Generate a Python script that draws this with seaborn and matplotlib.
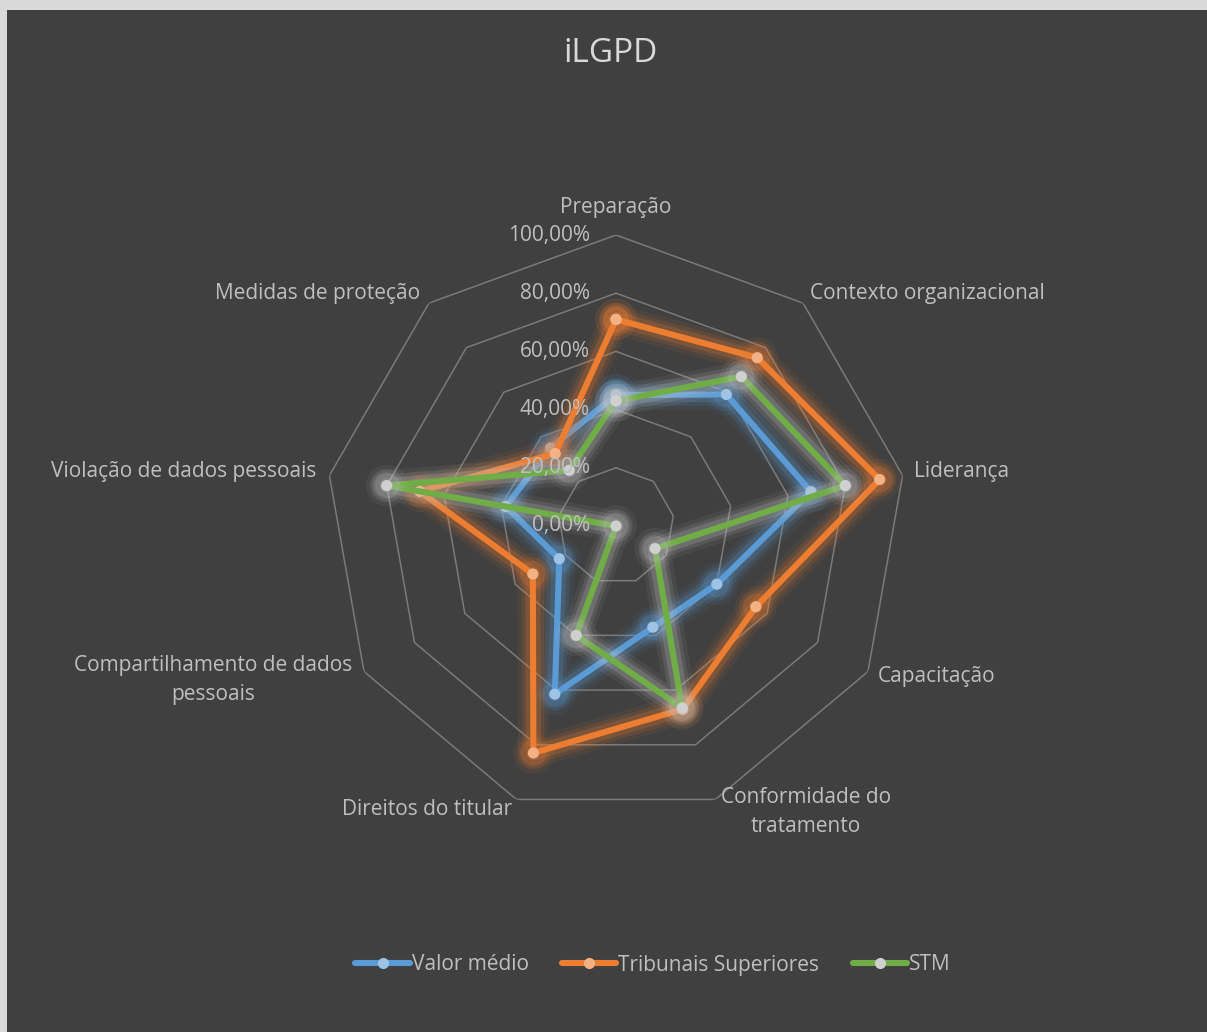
import numpy as np
import pandas as pd
import seaborn as sns
import matplotlib.pyplot as plt
import matplotlib.patheffects as pe
from matplotlib.lines import Line2D
from matplotlib.patches import Rectangle

categories = ['Preparação', 'Contexto organizacional', 'Liderança', 'Capacitação',
              'Conformidade do\ntratamento', 'Direitos do titular',
              'Compartilhamento de dados\npessoais', 'Violação de dados pessoais',
              'Medidas de proteção']
valor_medio = [45, 59, 68, 40, 37, 61.5, 22.5, 38.5, 35]
tribunais = [71, 75.5, 92, 55.5, 67, 83, 33, 68.5, 32.5]
stm = [43, 67, 80, 15.5, 66.5, 40, 0, 80, 25]
series_names = ['Valor médio', 'Tribunais Superiores', 'STM']
tick_vals = [0, 20, 40, 60, 80, 100]
tick_labels = ['0,00%', '20,00%', '40,00%', '60,00%', '80,00%', '100,00%']

line_colors = ['#5b9bd5', '#ed7d31', '#70ad47']
marker_colors = ['#9dc3e6', '#f4b183', '#d0d0d0']
glow_colors = ['#5b9bd5', '#ed7d31', '#c8c8c8']

sns.set_style('white')
plt.rcParams['font.family'] = ['Open Sans', 'DejaVu Sans']
bg = '#404040'
txt = '#bfbfbf'
fs = 15

n = len(categories)
theta = np.linspace(0, 2 * np.pi, n, endpoint=False)
theta_closed = np.append(theta, 2 * np.pi)

rows = []
for name, vals in zip(series_names, [valor_medio, tribunais, stm]):
    closed = list(vals) + [vals[0]]
    for i, (t, v) in enumerate(zip(theta_closed, closed)):
        rows.append({'series': name, 'order': i, 'theta': t, 'value': v})
df = pd.DataFrame(rows)

fig = plt.figure(figsize=(12.07, 10.32), dpi=100)
fig.patch.set_facecolor('#d9d9d9')
fig.add_artist(Rectangle((7 / 1207, 0), 1, (1032 - 10) / 1032,
                         transform=fig.transFigure, facecolor=bg,
                         edgecolor='none', zorder=-10))

cx, cy, R = 616, 526, 291
ax = fig.add_axes([(cx - R) / 1207, (1032 - cy - R) / 1032, 2 * R / 1207, 2 * R / 1032],
                  projection='polar')
ax.set_facecolor('none')
ax.set_theta_zero_location('N')
ax.set_theta_direction(-1)
ax.set_ylim(0, 100)
ax.set_xticks([])
ax.set_yticks([])
ax.grid(False)
ax.spines['polar'].set_visible(False)

# polygon gridlines
for tv in tick_vals[1:]:
    ax.plot(theta_closed, [tv] * (n + 1), color='#7a7a7a', lw=1.1, zorder=1)

for k, name in enumerate(series_names):
    sub = df[df['series'] == name]
    sns.lineplot(data=sub, x='theta', y='value', sort=False, estimator=None,
                 color=line_colors[k], lw=4.4, marker='o', markersize=8,
                 markerfacecolor=marker_colors[k], markeredgewidth=0,
                 legend=False, ax=ax, zorder=3 + k)
    ln = ax.lines[-1]
    gc = glow_colors[k]
    ln.set_path_effects([
        pe.Stroke(linewidth=22, foreground=gc, alpha=0.07),
        pe.Stroke(linewidth=16, foreground=gc, alpha=0.12),
        pe.Stroke(linewidth=11, foreground=gc, alpha=0.2),
        pe.Normal()])
ax.set_xlabel('')
ax.set_ylabel('')
ax.set_ylim(0, 100)

# category labels
offsets = [(0, 28), (7, 10), (11, 4), (10, -5), (5, -13),
           (-4, -10), (-12, -8), (-13, 4), (-9, 10)]
for k, (lab, t) in enumerate(zip(categories, theta)):
    s = np.sin(t)
    ha = 'left' if s > 0.1 else ('right' if s < -0.1 else 'center')
    ax.annotate(lab, xy=(t, 100), xytext=offsets[k], textcoords='offset pixels',
                ha=ha, va='center', multialignment='center', color=txt,
                fontsize=fs, annotation_clip=False, linespacing=1.5)

# radial tick labels
for tv, tl in zip(tick_vals, tick_labels):
    ax.annotate(tl, xy=(0, tv), xytext=(-26, 0), textcoords='offset pixels',
                ha='right', va='center', color=txt, fontsize=fs,
                annotation_clip=False, zorder=10)

fig.text(611 / 1207, 1 - 53 / 1032, 'iLGPD', ha='center', va='center',
         color='#d9d9d9', fontsize=24)

handles = [Line2D([0], [0], color=line_colors[k], lw=4.4, marker='o', markersize=8,
                  markerfacecolor=marker_colors[k], markeredgewidth=0)
           for k in range(3)]
leg = fig.legend(handles, series_names, loc='center', ncol=3, frameon=False,
                 bbox_to_anchor=(653 / 1207, 1 - 965 / 1032), handlelength=2.6,
                 handletextpad=0.1, columnspacing=1.6, fontsize=fs)
for t in leg.get_texts():
    t.set_color(txt)

fig.savefig('out.png', dpi=100, facecolor=fig.get_facecolor())
